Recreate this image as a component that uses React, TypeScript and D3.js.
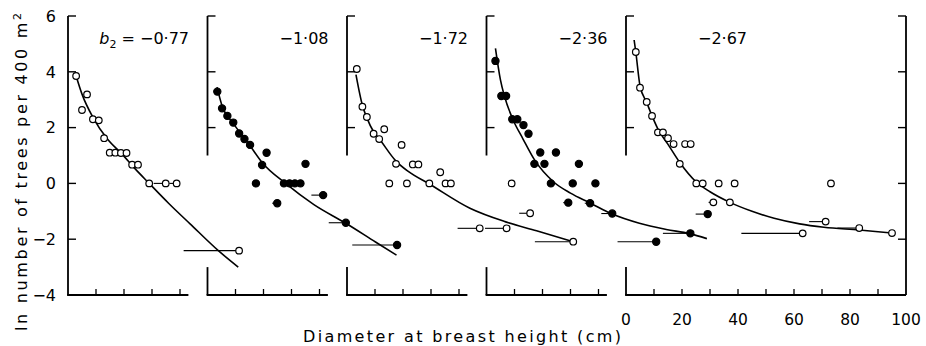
import React from "react";
import * as d3 from "d3";

// ---- data (x = diameter in cm within each panel, y = ln number of trees per 400 m²) ----
const coefLabels = ["−0·77", "−1·08", "−1·72", "−2·36", "−2·67"];
const panelFilled = [false, true, false, true, false];

const yTicks = [6, 4, 2, 0, -2, -4];
const xTickLabels = [0, 20, 40, 60, 80, 100];
const xMinorTicks = [10, 20, 30, 40, 50, 60, 70, 80, 90];

// panel 1
const p1Points: [number, number][] = [
  [2.9, 3.85], [5.0, 2.63], [6.8, 3.19], [8.9, 2.3], [11.0, 2.26], [12.9, 1.62],
  [14.9, 1.1], [16.9, 1.1], [18.9, 1.09], [20.9, 1.09], [22.9, 0.67], [25.0, 0.67],
  [29.0, 0], [34.9, 0], [38.8, 0], [61.1, -2.41],
];
const p1Bars: [number, number, number][] = [
  [30.6, 34.9, 0], [36.2, 38.8, 0], [41.3, 61.1, -2.41],
];
const p1Curve: [number, number][] = [
  [2.6, 3.95], [5, 3.2], [9, 2.35], [14, 1.6], [19.3, 1.05], [24, 0.52], [29, 0],
  [36, -0.72], [43.6, -1.45], [53.8, -2.42], [60.8, -3.0],
];

// panel 2
const p2Points: [number, number][] = [
  [3.5, 3.29], [5.2, 2.69], [7.1, 2.42], [9.2, 2.18], [11.3, 1.79], [13.2, 1.59],
  [15.2, 1.38], [21.1, 1.1], [19.5, 0.66], [17.3, 0], [35.0, 0.7], [27.3, 0],
  [29.3, 0], [31.2, 0], [33.2, 0], [24.9, -0.71], [41.3, -0.42], [49.4, -1.41],
  [67.7, -2.21],
];
const p2Bars: [number, number, number][] = [
  [23.1, 24.9, -0.71], [37.1, 41.3, -0.42], [43.3, 49.4, -1.41], [51.7, 67.7, -2.21],
];
const p2Curve: [number, number][] = [
  [3.4, 3.45], [5.2, 2.78], [9.2, 2.15], [15.2, 1.35], [19.5, 0.75], [27.9, 0],
  [38, -0.76], [49.4, -1.43], [60, -2.1], [67.5, -2.57],
];

// panel 3
const p3Points: [number, number][] = [
  [3.5, 4.1], [5.5, 2.75], [7.1, 2.38], [9.5, 1.78], [11.5, 1.59], [13.3, 1.94],
  [19.5, 1.38], [17.5, 0.7], [23.5, 0.68], [25.5, 0.68], [15.1, 0], [21.4, 0],
  [29.4, 0], [33.3, 0.4], [35.2, 0], [37.1, 0], [47.4, -1.61], [57.0, -1.61],
  [58.8, 0], [65.4, -1.07], [80.8, -2.09],
];
const p3Bars: [number, number, number][] = [
  [32.0, 33.3, 0.4], [39.5, 47.4, -1.61], [49.3, 57.0, -1.61], [61.5, 65.4, -1.07],
  [67.1, 80.8, -2.09],
];
const p3Curve: [number, number][] = [
  [3.2, 3.9], [5.5, 2.8], [7.1, 2.35], [9.5, 1.85], [11.5, 1.6], [17.5, 0.8],
  [22, 0.42], [29.4, -0.02], [43.9, -0.89], [56.4, -1.37], [67.7, -1.7], [80.8, -2.09],
];

// panel 4
const p4Points: [number, number][] = [
  [3.2, 4.39], [5.3, 3.13], [7.0, 3.13], [9.2, 2.3], [11.0, 2.3], [13.2, 2.09],
  [15.0, 1.78], [19.2, 1.11], [24.8, 1.11], [17.1, 0.7], [20.7, 0.7], [33.0, 0.7],
  [23.0, 0], [30.8, 0], [38.9, 0], [29.2, -0.69], [37.0, -0.71], [44.9, -1.08],
  [72.8, -1.79], [79.0, -1.1], [60.6, -2.09],
];
const p4Bars: [number, number, number][] = [
  [27.4, 29.2, -0.69], [35.1, 37.0, -0.71], [41.0, 44.9, -1.08], [63.0, 72.8, -1.79],
  [74.7, 79.0, -1.1], [46.8, 60.6, -2.09],
];
const p4Curve: [number, number][] = [
  [3.2, 4.84], [5, 3.7], [6.4, 3.13], [9.4, 2.3], [13, 1.6], [17.1, 0.85],
  [24, 0.05], [30, -0.35], [37, -0.7], [44.9, -1.1], [54.6, -1.43], [64.2, -1.65],
  [72.5, -1.8], [78.7, -1.98],
];

// panel 5
const p5Points: [number, number][] = [
  [3.5, 4.71], [5.0, 3.43], [7.4, 2.92], [9.3, 2.42], [11.4, 1.83], [13.2, 1.83],
  [15.0, 1.62], [17.0, 1.41], [21.1, 1.41], [23.1, 1.41], [19.2, 0.7], [25.1, 0],
  [27.4, 0], [33.1, 0], [38.8, 0], [73.2, 0], [31.2, -0.68], [37.1, -0.68],
  [71.3, -1.37], [83.3, -1.6], [63.1, -1.79], [95.0, -1.78],
];
const p5Bars: [number, number, number][] = [
  [29.5, 31.2, -0.68], [65.4, 71.3, -1.37], [75.5, 83.3, -1.6], [41.2, 63.1, -1.79],
];
const p5Curve: [number, number][] = [
  [2.9, 5.14], [3.5, 4.71], [5, 3.5], [7.4, 2.9], [9.3, 2.42], [11.4, 1.95],
  [15, 1.4], [19.2, 0.75], [25.1, 0.05], [30, -0.3], [37.1, -0.68], [45, -1.0],
  [52.9, -1.25], [62, -1.45], [70.7, -1.57], [83.3, -1.67], [95, -1.78],
];

const allPoints = [p1Points, p2Points, p3Points, p4Points, p5Points];
const allBars = [p1Bars, p2Bars, p3Bars, p4Bars, p5Bars];
const allCurves = [p1Curve, p2Curve, p3Curve, p4Curve, p5Curve];

const FONT = "'DejaVu Sans', 'Liberation Sans', sans-serif";

export default function App() {
  const W = 926;
  const H = 346;
  const y = d3.scaleLinear().domain([-4, 6]).range([295, 16]);
  const panelX0 = d3.scaleLinear().domain([0, 4]).range([68, 626]);
  const line = (xs: d3.ScaleLinear<number, number>) =>
    d3
      .line<[number, number]>()
      .x((d) => xs(d[0]))
      .y((d) => y(d[1]))
      .curve(d3.curveMonotoneX);

  const panels = coefLabels.map((coef, i) => {
    const x0 = panelX0(i);
    const xs = d3.scaleLinear().domain([0, 100]).range([x0, x0 + 280]);
    const last = i === 4;
    const bottomEnd = last ? 100 : 43;
    const leftSegs: [number, number][] = i === 0 ? [[6, -4]] : [[6, 1], [-3, -4]];
    const leftTicks = i === 0 ? [6, 4, 2, 0, -2] : [6, 4, 2];
    const ticks = xMinorTicks.filter((t) => t < bottomEnd);
    return (
      <g key={i}>
        {/* left axis */}
        {leftSegs.map((s, k) => (
          <line key={"ls" + k} x1={xs(0)} x2={xs(0)} y1={y(s[0])} y2={y(s[1])}
            stroke="#000" strokeWidth={1.8} />
        ))}
        {leftTicks.map((t) => (
          <line key={"lt" + t} x1={xs(0)} x2={xs(0) + 8} y1={y(t)} y2={y(t)}
            stroke="#000" strokeWidth={1.4} />
        ))}
        {/* bottom axis */}
        <line x1={xs(0) - 0.9} x2={xs(bottomEnd)} y1={y(-4)} y2={y(-4)} stroke="#000" strokeWidth={1.8} />
        {ticks.map((t) => (
          <line key={"bt" + t} x1={xs(t)} x2={xs(t)} y1={y(-4)} y2={y(-4) - 6}
            stroke="#000" strokeWidth={1.3} />
        ))}
        {last && (
          <g>
            <line x1={xs(100)} x2={xs(100)} y1={y(6)} y2={y(-4)} stroke="#000" strokeWidth={1.8} />
            {[6, 4, 2, 0, -2].map((t) => (
              <line key={"rt" + t} x1={xs(100)} x2={xs(100) - 8} y1={y(t)} y2={y(t)}
                stroke="#000" strokeWidth={1.4} />
            ))}
            {xTickLabels.map((t) => (
              <text key={"xl" + t} x={xs(t)} y={325} textAnchor="middle" fontSize={15.5}
                fontFamily={FONT}>{t}</text>
            ))}
          </g>
        )}
        {/* coefficient label */}
        <text x={xs(0) + 121} y={44} textAnchor="end" fontSize={16} fontFamily={FONT}>
          {i === 0 ? (
            <>
              <tspan fontStyle="italic">b</tspan>
              <tspan dy={4} fontSize={11}>2</tspan>
              <tspan dy={-4}>{" = " + coef}</tspan>
            </>
          ) : (
            coef
          )}
        </text>
        {/* fitted curve */}
        <path d={line(xs)(allCurves[i]) || ""} fill="none" stroke="#000" strokeWidth={1.6} />
        {/* class-width bars */}
        {allBars[i].map((b, k) => (
          <line key={"b" + k} x1={xs(b[0])} x2={xs(b[1])} y1={y(b[2])} y2={y(b[2])}
            stroke="#000" strokeWidth={1.1} />
        ))}
        {/* observed points */}
        {allPoints[i].map((p, k) => (
          <circle key={"p" + k} cx={xs(p[0])} cy={y(p[1])} r={panelFilled[i] ? 3.6 : 3.3}
            fill={panelFilled[i] ? "#000" : "#fff"} stroke="#000" strokeWidth={1.2} />
        ))}
      </g>
    );
  });

  return (
    <svg width={W} height={H} style={{ position: "absolute", left: 0, top: 0, background: "#fff" }}>
      <rect x={0} y={0} width={W} height={H} fill="#fff" />
      {yTicks.map((t) => (
        <text key={"yl" + t} x={56} y={y(t)} dy="0.36em" textAnchor="end" fontSize={16}
          fontFamily={FONT}>{t < 0 ? "−" + Math.abs(t) : t}</text>
      ))}
      <text transform="translate(27,172) rotate(-90)" textAnchor="middle" fontSize={16}
        fontFamily={FONT} textLength={318} lengthAdjust="spacing">
        ln number of trees per 400 m<tspan dy={-6} fontSize={11}>2</tspan>
      </text>
      <text x={462} y={342} textAnchor="middle" fontSize={16} fontFamily={FONT}
        textLength={318} lengthAdjust="spacing">Diameter at  breast height  (cm)</text>
      {panels}
    </svg>
  );
}
